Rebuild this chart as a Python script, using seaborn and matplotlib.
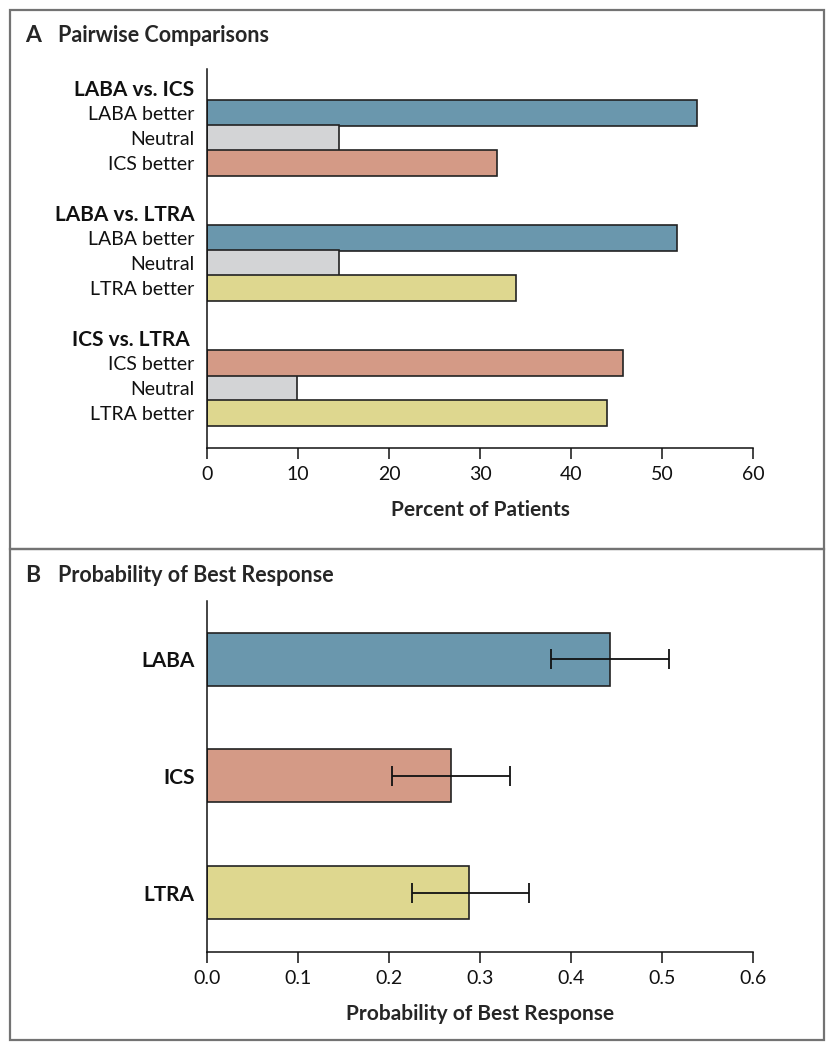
import numpy as np
import pandas as pd
import seaborn as sns
import matplotlib.pyplot as plt
from matplotlib.patches import Rectangle

# ---------------- data ----------------
groups = ["LABA vs. ICS", "LABA vs. LTRA", "ICS vs. LTRA "]
outcomes = [["LABA better", "Neutral", "ICS better"],
            ["LABA better", "Neutral", "LTRA better"],
            ["ICS better", "Neutral", "LTRA better"]]
percent = [[53.8, 14.5, 31.9],
           [51.6, 14.5, 34.0],
           [45.7, 9.9, 44.0]]

treatments = ["LABA", "ICS", "LTRA"]
prob_best = [0.443, 0.268, 0.288]
ci_low = [0.378, 0.203, 0.225]
ci_high = [0.508, 0.333, 0.354]

x_ticks_a = [0, 10, 20, 30, 40, 50, 60]
x_ticks_b = [0.0, 0.1, 0.2, 0.3, 0.4, 0.5, 0.6]

colors = {"LABA": "#6A97AD", "ICS": "#D49A86", "LTRA": "#DED78F", "Neutral": "#D3D4D6"}

# ---------------- style ----------------
sns.set_style("ticks")
plt.rcParams['font.family'] = ['Lato', 'DejaVu Sans']
plt.rcParams['axes.linewidth'] = 1.1
plt.rcParams['xtick.major.width'] = 1.1

W, H = 834, 1050
fig = plt.figure(figsize=(W / 100, H / 100), dpi=100)

def fx(px):
    return px / W

def fy(py):
    return 1 - py / H

# ---------------- panel A ----------------
order, labels, bold_rows, rows = [], [], [], []
for gi, g in enumerate(groups):
    order.append(f"h{gi}")
    labels.append(g)
    bold_rows.append(True)
    for j, (o, v) in enumerate(zip(outcomes[gi], percent[gi])):
        key = f"g{gi}_{j}"
        order.append(key)
        labels.append(o)
        bold_rows.append(False)
        rows.append({"key": key, "value": v, "ckey": o.split()[0]})
    if gi < len(groups) - 1:
        order.append(f"b{gi}")
        labels.append("")
        bold_rows.append(False)
dfA = pd.DataFrame(rows)

axA = fig.add_axes([fx(207), fy(448), fx(753) - fx(207), fy(69) - fy(448)])
sns.barplot(data=dfA, x="value", y="key", hue="ckey", palette=colors, order=order,
            dodge=False, width=1.04, edgecolor="#222222", linewidth=1.2,
            saturation=1, legend=False, ax=axA)
axA.set_xlim(0, 60)
axA.set_ylim(14.4, -0.76)
axA.set_xticks(x_ticks_a)
axA.set_xticklabels([str(t) for t in x_ticks_a], fontsize=14)
axA.set_yticks(range(len(order)))
axA.set_yticklabels(labels, fontsize=14)
for tl, b in zip(axA.get_yticklabels(), bold_rows):
    if b:
        tl.set_fontweight("bold")
        tl.set_fontsize(15)
axA.set_ylabel("")
axA.set_xlabel("Percent of Patients", fontsize=15, fontweight="bold", labelpad=12)

# ---------------- panel B ----------------
dfB = pd.DataFrame({"treat": treatments, "p": prob_best})
axB = fig.add_axes([fx(207), fy(952), fx(753) - fx(207), fy(601) - fy(952)])
sns.barplot(data=dfB, x="p", y="treat", hue="treat", palette=colors, order=treatments,
            dodge=False, width=0.455, edgecolor="#222222", linewidth=1.2,
            saturation=1, legend=False, ax=axB)
p = np.array(prob_best)
xerr = np.vstack([p - np.array(ci_low), np.array(ci_high) - p])
axB.errorbar(p, np.arange(len(treatments)), xerr=xerr, fmt="none", ecolor="#111111",
             elinewidth=1.3, capsize=7, capthick=1.3, zorder=5)
axB.set_xlim(0, 0.6)
axB.set_ylim(2.51, -0.5)
axB.set_xticks(x_ticks_b)
axB.set_xticklabels([f"{t:.1f}" for t in x_ticks_b], fontsize=14)
axB.set_yticks(range(len(treatments)))
axB.set_yticklabels(treatments, fontsize=15, fontweight="bold")
axB.set_ylabel("")
axB.set_xlabel("Probability of Best Response", fontsize=15, fontweight="bold", labelpad=12)

for ax in (axA, axB):
    sns.despine(ax=ax)
    ax.spines["left"].set_color("#111111")
    ax.spines["bottom"].set_color("#111111")
    ax.tick_params(axis="y", length=0, pad=9, colors="#111111")
    ax.tick_params(axis="x", length=8, width=1.1, direction="out", pad=5, colors="#111111")

# ---------------- panel titles & borders ----------------
fig.text(fx(25), fy(35), "A", fontsize=16.5, fontweight="bold", va="center", ha="left")
fig.text(fx(58), fy(35), "Pairwise Comparisons", fontsize=15.5, fontweight="bold",
         va="center", ha="left")
fig.text(fx(25), fy(575), "B", fontsize=16.5, fontweight="bold", va="center", ha="left")
fig.text(fx(58), fy(575), "Probability of Best Response", fontsize=15.5, fontweight="bold",
         va="center", ha="left")

for top, bot in [(10, 549), (549, 1040)]:
    fig.add_artist(Rectangle((fx(10), fy(bot)), fx(824) - fx(10), fy(top) - fy(bot),
                             transform=fig.transFigure, fill=False,
                             edgecolor="#737373", linewidth=1.6))

fig.savefig("out.png", dpi=100)
